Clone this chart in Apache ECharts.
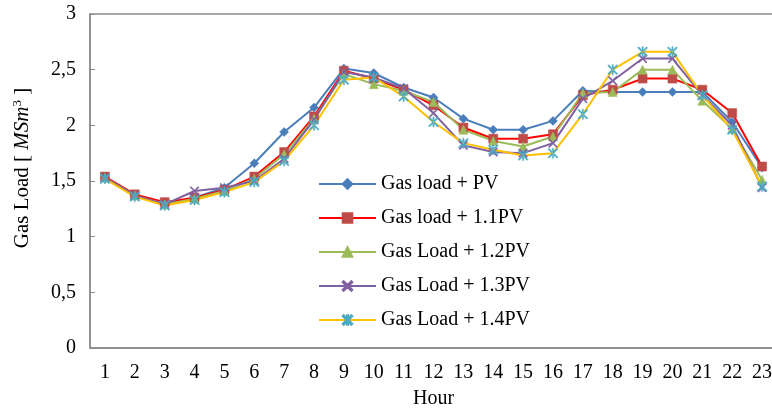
<!DOCTYPE html>
<html>
<head>
<meta charset="utf-8">
<script src="https://cdn.jsdelivr.net/npm/echarts@6/dist/echarts.min.js"></script>
<style>
  html, body { margin: 0; padding: 0; background: #fff; }
  #chart { width: 772px; height: 412px; }
</style>
</head>
<body>
<div id="chart"></div>
<script>
const hours = ['1','2','3','4','5','6','7','8','9','10','11','12','13','14','15','16','17','18','19','20','21','22','23']

const loadPV   = [1.53, 1.37, 1.29, 1.35, 1.44, 1.66, 1.94, 2.16, 2.51, 2.47, 2.34, 2.25, 2.06, 1.96, 1.96, 2.04, 2.31, 2.30, 2.30, 2.30, 2.30, 2.03, 1.62]
const load11PV = [1.54, 1.38, 1.31, 1.35, 1.42, 1.54, 1.76, 2.08, 2.49, 2.42, 2.32, 2.18, 1.98, 1.88, 1.88, 1.92, 2.27, 2.32, 2.42, 2.42, 2.32, 2.11, 1.63]
const load12PV = [1.53, 1.37, 1.29, 1.34, 1.41, 1.52, 1.74, 2.06, 2.46, 2.37, 2.31, 2.21, 1.96, 1.86, 1.81, 1.90, 2.29, 2.30, 2.50, 2.50, 2.22, 1.97, 1.51]
const load13PV = [1.53, 1.37, 1.29, 1.41, 1.44, 1.50, 1.70, 2.05, 2.48, 2.43, 2.33, 2.11, 1.82, 1.76, 1.75, 1.84, 2.24, 2.40, 2.60, 2.60, 2.27, 2.00, 1.44]
const load14PV = [1.52, 1.36, 1.28, 1.33, 1.40, 1.49, 1.68, 2.00, 2.41, 2.43, 2.26, 2.03, 1.84, 1.78, 1.73, 1.75, 2.10, 2.50, 2.66, 2.66, 2.27, 1.96, 1.45]

const names = ['Gas load + PV', 'Gas load + 1.1PV', 'Gas Load + 1.2PV', 'Gas Load + 1.3PV', 'Gas Load + 1.4PV']

const CROSS = 'path://M1,0 L5,4 L9,0 L10,1 L6,5 L10,9 L9,10 L5,6 L1,10 L0,9 L4,5 L0,1 Z'
const STAR  = 'path://M1,0 L5,4 L9,0 L10,1 L6,5 L10,9 L9,10 L5,6 L1,10 L0,9 L4,5 L0,1 Z M4.4,0 L4.4,10 L5.6,10 L5.6,0 Z'

const FONT = '"Liberation Serif", "Times New Roman", serif'

const chart = echarts.init(document.getElementById('chart'))

function line(name, data, lineColor, markColor, symbol, size) {
  return {
    name, data, type: 'line',
    symbol, symbolSize: size,
    showAllSymbol: true,
    lineStyle: { color: lineColor, width: 2 },
    itemStyle: { color: markColor, borderColor: markColor, borderWidth: 0.5 },
    emphasis: { disabled: true },
  }
}

chart.setOption({
  animation: false,
  textStyle: { fontFamily: FONT },
  grid: {
    left: 90, top: 14, right: -5, bottom: 64,
    outerBoundsMode: 'none',
    show: true, borderColor: '#8c8c8c', borderWidth: 1.5,
  },
  legend: {
    orient: 'vertical',
    left: 313, top: 169,
    itemWidth: 57, itemHeight: 12, itemGap: 14,
    backgroundColor: '#fff',
    textStyle: { fontFamily: FONT, fontSize: 20, color: '#000' },
    data: names,
  },
  xAxis: {
    type: 'category',
    data: hours,
    boundaryGap: true,
    name: 'Hour', nameLocation: 'middle', nameGap: 41,
    nameTextStyle: { fontFamily: FONT, fontSize: 20, color: '#000' },
    axisLine: { lineStyle: { color: '#8c8c8c', width: 1.5 } },
    axisTick: { inside: true, length: 6, lineStyle: { color: '#8c8c8c' } },
    axisLabel: { fontFamily: FONT, fontSize: 20, color: '#000', margin: 15 },
  },
  yAxis: {
    type: 'value',
    min: 0, max: 3, interval: 0.5,
    name: 'Gas Load [ {i|MSm}{s|3} ]', nameLocation: 'middle', nameGap: 56,
    nameTextStyle: {
      fontFamily: FONT, fontSize: 21, color: '#000',
      padding: [0, 0, 0, 26],
      rich: {
        i: { fontFamily: FONT, fontSize: 21, fontStyle: 'italic', color: '#000' },
        s: { fontFamily: FONT, fontSize: 13, color: '#000', padding: [0, 0, 10, 0] },
      },
    },
    splitLine: { show: false },
    axisLine: { show: true, lineStyle: { color: '#8c8c8c', width: 1.5 } },
    axisTick: { show: true, inside: true, length: 5, lineStyle: { color: '#8c8c8c' } },
    axisLabel: {
      fontFamily: FONT, fontSize: 20, color: '#000', margin: 14,
      formatter: v => String(v).replace('.', ','),
    },
  },
  series: [
    line(names[0], loadPV,   '#4a7ebb', '#4a7ebb', 'diamond', 9),
    line(names[1], load11PV, '#ff0000', '#be4b48', 'rect', 9),
    line(names[2], load12PV, '#9bbb59', '#9bbb59', 'triangle', 9),
    line(names[3], load13PV, '#7f60a0', '#7f60a0', CROSS, 9),
    line(names[4], load14PV, '#ffc000', '#4bacc6', STAR, 10),
  ],
})
</script>
</body>
</html>
